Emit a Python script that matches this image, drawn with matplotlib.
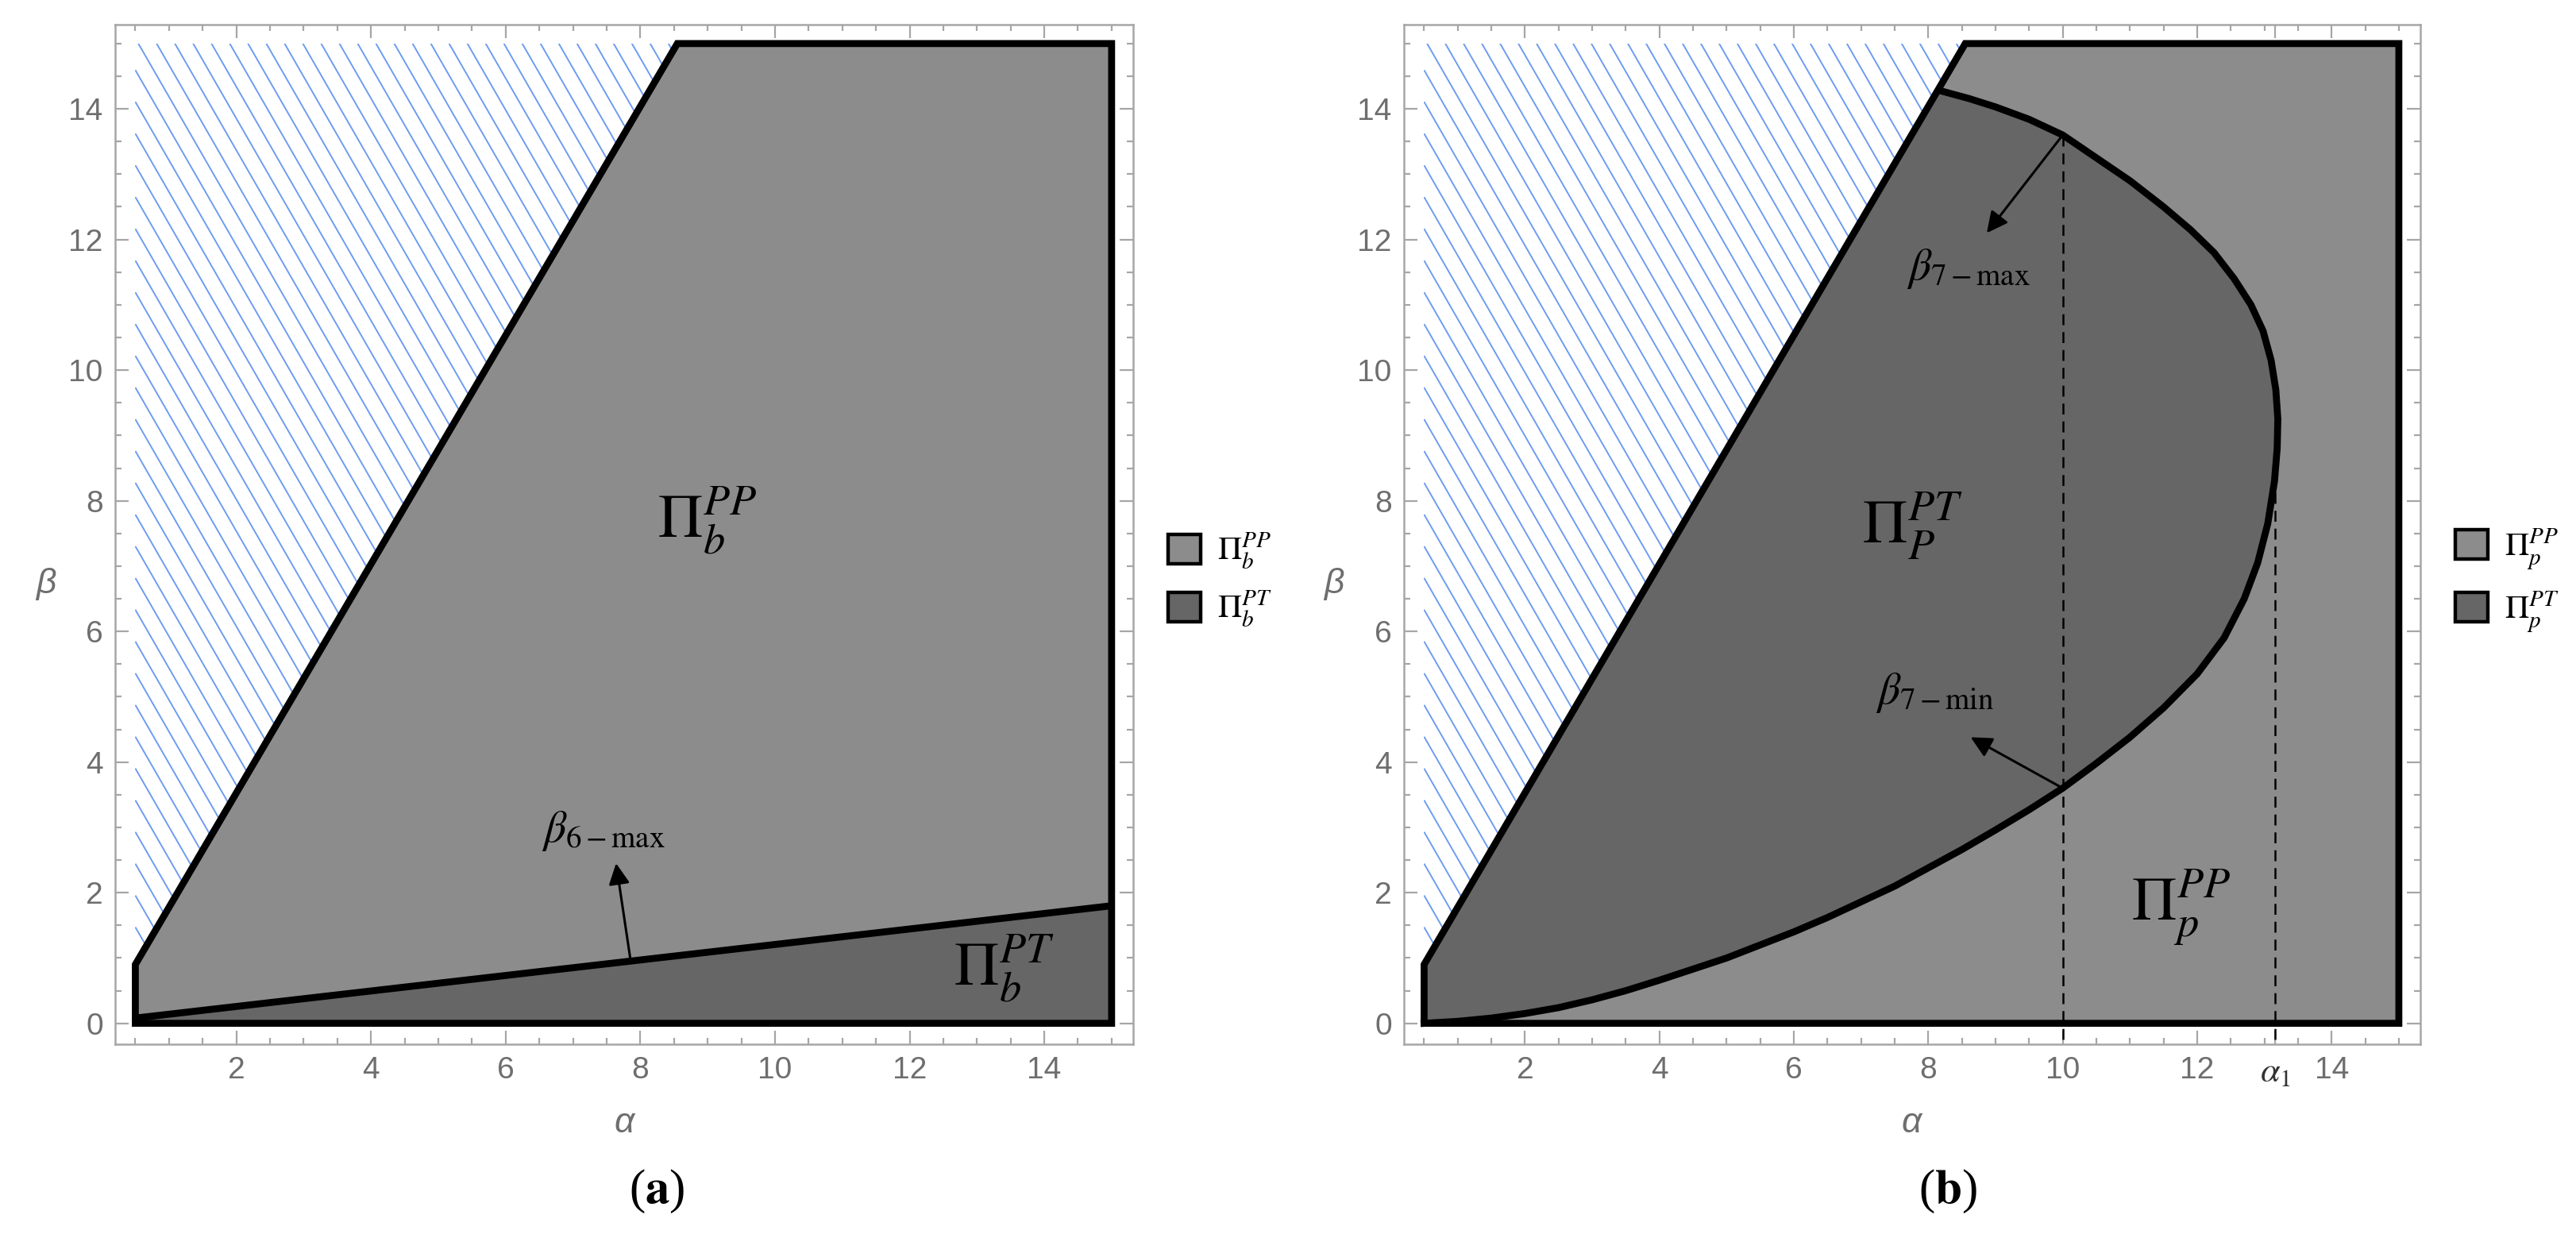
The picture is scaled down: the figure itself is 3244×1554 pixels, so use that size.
import numpy as np
import matplotlib
matplotlib.use("Agg")
import matplotlib.pyplot as plt
from matplotlib.patches import Polygon, Patch

plt.rcParams["mathtext.fontset"] = "stix"
plt.rcParams["font.family"] = ["Liberation Sans Narrow", "Liberation Sans", "DejaVu Sans"]

# ---------------- data ----------------
alpha_min, alpha_max = 0.5, 15.0
beta_top = 15.0
# feasibility boundary (left edge of the shaded region)
boundary_alpha = [0.5, 8.55]
boundary_beta = [0.9, 15.0]
# panel (a): beta_6-max line
b6_alpha = [0.5, 15.0]
b6_beta = [0.08, 1.8]
# panel (b): beta_7 curve (lower branch -> vertex -> upper branch)
curve_alpha = [0.5, 1.0, 1.5, 2.0, 2.5, 3.0, 3.5, 4.0, 4.5, 5.0, 5.5, 6.0, 6.5, 7.0,
               7.5, 8.0, 8.5, 9.0, 9.5, 10.0, 10.5, 11.0, 11.5, 12.0, 12.4, 12.7,
               12.9, 13.05, 13.15, 13.19, 13.2, 13.17, 13.1, 12.98, 12.8, 12.55,
               12.25, 11.9, 11.5, 11.0, 10.5, 10.0, 9.5, 9.0, 8.6, 8.17]
curve_beta = [0.0, 0.03, 0.08, 0.15, 0.24, 0.36, 0.5, 0.66, 0.83, 1.0, 1.2, 1.4, 1.62,
              1.86, 2.1, 2.38, 2.66, 2.96, 3.27, 3.6, 3.98, 4.38, 4.83, 5.35, 5.9, 6.5,
              7.05, 7.65, 8.3, 8.8, 9.25, 9.7, 10.15, 10.6, 11.0, 11.4, 11.8, 12.15,
              12.5, 12.9, 13.25, 13.6, 13.84, 14.03, 14.16, 14.28]
dash_alpha = [10.0, 13.16]
dash_beta_top = [13.6, 8.55]
alpha1 = 13.16

x_ticks = [2, 4, 6, 8, 10, 12, 14]
y_ticks = [0, 2, 4, 6, 8, 10, 12, 14]

light_gray = "#8c8c8c"
dark_gray = "#666666"
hatch_blue = "#6e9cf0"
frame_gray = "#a6a6a6"
label_gray = "#6e6e6e"

W, H = 3244, 1554
fig = plt.figure(figsize=(W / 100, H / 100), dpi=100)

ax_a = fig.add_axes([145 / W, 1 - 1315 / H, 1282 / W, 1284 / H])
ax_b = fig.add_axes([1768 / W, 1 - 1315 / H, 1280 / W, 1284 / H])

LW = 6.3


def setup_axes(ax, extra_tick=None):
    ax.set_xlim(0.2, 15.32)
    ax.set_ylim(-0.32, 15.29)
    ticks = list(x_ticks)
    labels = [str(t) for t in x_ticks]
    if extra_tick is not None:
        ticks.append(extra_tick)
        labels.append(r"$\alpha_1$")
    ax.set_xticks(ticks)
    ax.set_xticklabels(labels)
    ax.set_yticks(y_ticks)
    ax.set_xticks(np.arange(0.5, 15.3, 0.5), minor=True)
    ax.set_yticks(np.arange(0.0, 15.3, 0.5), minor=True)
    ax.tick_params(which="both", direction="in", top=True, right=True,
                   color=frame_gray, width=1.6, labelcolor=label_gray,
                   labelsize=28)
    ax.tick_params(which="major", length=12, pad=11)
    ax.tick_params(which="minor", length=6)
    for sp in ax.spines.values():
        sp.set_color(frame_gray)
        sp.set_linewidth(1.8)
    ax.set_facecolor("white")
    if extra_tick is not None:
        for lab in ax.get_xticklabels():
            if lab.get_text() == r"$\alpha_1$":
                lab.set_color("#333333")
                lab.set_fontsize(32)


def draw_hatch(ax):
    verts = [(alpha_min, boundary_beta[0]), (alpha_min, beta_top),
             (boundary_alpha[1], beta_top)]
    clip = Polygon(verts, closed=True, transform=ax.transData,
                   facecolor="none", edgecolor="none")
    ax.add_patch(clip)
    s = 1.79
    xs = np.array([alpha_min, 9.0])
    for b0 in np.arange(0.5, 15.0 + s * 9, 0.486):
        ln, = ax.plot(xs, b0 - s * (xs - alpha_min), color=hatch_blue,
                      lw=1.4, zorder=1, solid_capstyle="butt")
        ln.set_clip_path(clip)


def outer_polygon():
    return [(alpha_min, 0.0), (alpha_max, 0.0), (alpha_max, beta_top),
            (boundary_alpha[1], beta_top), (boundary_alpha[0], boundary_beta[0])]


def arrow(ax, tail, head):
    ax.annotate("", xy=head, xytext=tail,
                arrowprops=dict(arrowstyle="-|>", color="black", lw=2.2,
                                mutation_scale=40, shrinkA=0, shrinkB=0), zorder=6)


# ---------------- panel (a) ----------------
setup_axes(ax_a)
draw_hatch(ax_a)
ax_a.add_patch(Polygon(outer_polygon(), closed=True, facecolor=light_gray,
                       edgecolor="none", zorder=2))
ax_a.add_patch(Polygon([(b6_alpha[0], 0.0), (b6_alpha[0], b6_beta[0]),
                        (b6_alpha[1], b6_beta[1]), (b6_alpha[1], 0.0)],
                       closed=True, facecolor=dark_gray, edgecolor="none", zorder=3))
ax_a.plot(b6_alpha, b6_beta, color="black", lw=LW, zorder=4, solid_capstyle="butt")
ax_a.add_patch(Polygon(outer_polygon(), closed=True, facecolor="none",
                       edgecolor="black", lw=LW, joinstyle="miter", zorder=5))
arrow(ax_a, (7.85, 1.0), (7.64, 2.45))
ax_a.text(7.45, 2.95, r"$\beta_{6-\max}$", fontsize=40, ha="center", va="center", zorder=6)
ax_a.text(9.0, 7.7, r"$\Pi_b^{PP}$", fontsize=56, ha="center", va="center", zorder=6)
ax_a.text(13.4, 0.85, r"$\Pi_b^{PT}$", fontsize=56, ha="center", va="center", zorder=6)

# ---------------- panel (b) ----------------
setup_axes(ax_b, extra_tick=alpha1)
draw_hatch(ax_b)
ax_b.add_patch(Polygon(outer_polygon(), closed=True, facecolor=light_gray,
                       edgecolor="none", zorder=2))
ca = np.array(curve_alpha)
cb = np.array(curve_beta)
dark_verts = np.column_stack([np.concatenate([[alpha_min], ca[::-1]]),
                              np.concatenate([[boundary_beta[0]], cb[::-1]])])
ax_b.add_patch(Polygon(dark_verts, closed=True, facecolor=dark_gray,
                       edgecolor="none", zorder=3))
for a, bt in zip(dash_alpha, dash_beta_top):
    ax_b.plot([a, a], [-0.25, bt], color="black", lw=1.8,
              linestyle=(0, (5.5, 3.5)), zorder=4)
ax_b.plot(ca, cb, color="black", lw=LW, zorder=5, solid_joinstyle="round")
ax_b.add_patch(Polygon(outer_polygon(), closed=True, facecolor="none",
                       edgecolor="black", lw=LW, joinstyle="miter", zorder=5))
arrow(ax_b, (10.0, 13.6), (8.87, 12.1))
arrow(ax_b, (10.0, 3.6), (8.63, 4.38))
ax_b.text(8.6, 11.55, r"$\beta_{7-\max}$", fontsize=40, ha="center", va="center", zorder=6)
ax_b.text(8.1, 5.06, r"$\beta_{7-\min}$", fontsize=40, ha="center", va="center", zorder=6)
ax_b.text(7.77, 7.62, r"$\Pi_P^{PT}$", fontsize=56, ha="center", va="center", zorder=6)
ax_b.text(11.76, 1.77, r"$\Pi_p^{PP}$", fontsize=56, ha="center", va="center", zorder=6)

# ---------------- labels, legends ----------------
for ax, sub, cx in [(ax_a, "b", 786), (ax_b, "p", 2407)]:
    fig.text(cx / W, 1 - 1415 / H, "α", fontsize=32, style="italic",
             color=label_gray, ha="center", va="center")
    handles = [Patch(facecolor=light_gray, edgecolor="black", linewidth=3.2),
               Patch(facecolor=dark_gray, edgecolor="black", linewidth=3.2)]
    ax.legend(handles, [rf"$\Pi_{sub}^{{PP}}$", rf"$\Pi_{sub}^{{PT}}$"],
              loc="center left", bbox_to_anchor=(1.034, 0.455), frameon=False,
              fontsize=30, handlelength=1.0, handleheight=1.0,
              handletextpad=0.5, labelspacing=0.55, borderaxespad=0, borderpad=0)

for x in (58, 1680):
    fig.text(x / W, 1 - 735 / H, "β", fontsize=32, style="italic", color=label_gray,
             ha="center", va="center")

fig.text(827 / W, 1 - 1500 / H, r"($\mathbf{a}$)", fontsize=44, family="Liberation Serif",
         ha="center", va="center")
fig.text(2453 / W, 1 - 1500 / H, r"($\mathbf{b}$)", fontsize=44, family="Liberation Serif",
         ha="center", va="center")

fig.savefig("out.png", dpi=100, facecolor="white")
